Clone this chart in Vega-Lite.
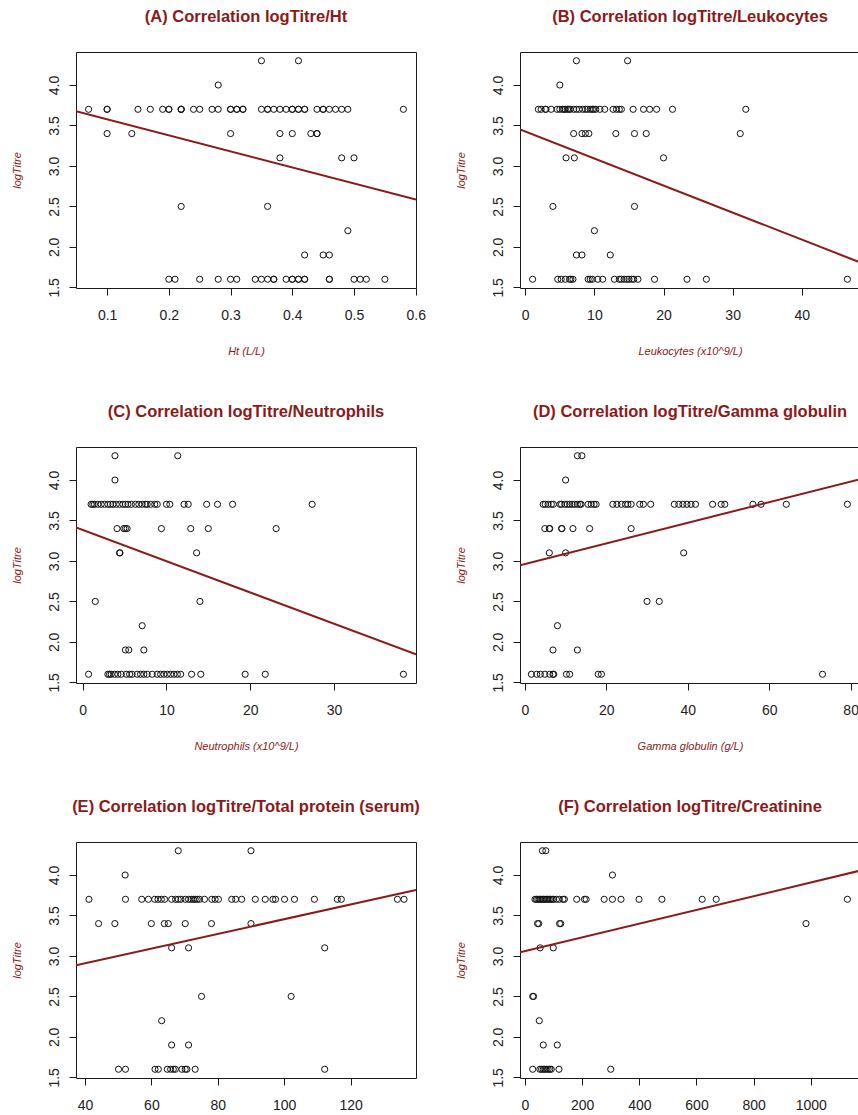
{
  "$schema": "https://vega.github.io/schema/vega-lite/v6.json",
  "padding": {"top": 8, "left": 10, "right": 0, "bottom": 0},
  "background": "white",
  "config": {
    "font": "Liberation Sans",
    "view": {"stroke": "#1a1a1a", "strokeWidth": 1},
    "axis": {"grid": false, "domain": false, "tickColor": "#1a1a1a", "tickSize": 7, "labelFont": "Liberation Sans", "labelFontSize": 14, "labelColor": "#222222", "labelFlush": false, "labelOverlap": false, "titleFont": "Liberation Sans", "titleFontSize": 11, "titleFontStyle": "italic", "titleFontWeight": "normal", "titleColor": "#8B1A1A"},
    "axisY": {"labelAngle": 270, "labelAlign": "center", "labelBaseline": "bottom", "labelPadding": 8, "titlePadding": 25},
    "axisX": {"labelPadding": 13, "titlePadding": 23},
    "title": {"font": "Liberation Sans", "fontSize": 16.5, "fontWeight": "bold", "color": "#8B1A1A", "anchor": "middle", "frame": "group", "baseline": "alphabetic", "offset": 27}
  },
  "datasets": {
    "A": [
      {"x":0.07,"logTitre":3.7},{"x":0.10,"logTitre":3.7},{"x":0.10,"logTitre":3.7},{"x":0.15,"logTitre":3.7},{"x":0.17,"logTitre":3.7},{"x":0.19,"logTitre":3.7},{"x":0.20,"logTitre":3.7},{"x":0.20,"logTitre":3.7},{"x":0.22,"logTitre":3.7},{"x":0.22,"logTitre":3.7},{"x":0.22,"logTitre":3.7},{"x":0.24,"logTitre":3.7},{"x":0.25,"logTitre":3.7},{"x":0.27,"logTitre":3.7},{"x":0.28,"logTitre":3.7},{"x":0.30,"logTitre":3.7},{"x":0.30,"logTitre":3.7},{"x":0.31,"logTitre":3.7},{"x":0.31,"logTitre":3.7},{"x":0.32,"logTitre":3.7},{"x":0.32,"logTitre":3.7},{"x":0.35,"logTitre":3.7},{"x":0.36,"logTitre":3.7},{"x":0.36,"logTitre":3.7},{"x":0.37,"logTitre":3.7},{"x":0.38,"logTitre":3.7},{"x":0.39,"logTitre":3.7},{"x":0.40,"logTitre":3.7},{"x":0.40,"logTitre":3.7},{"x":0.41,"logTitre":3.7},{"x":0.41,"logTitre":3.7},{"x":0.42,"logTitre":3.7},{"x":0.42,"logTitre":3.7},{"x":0.44,"logTitre":3.7},{"x":0.45,"logTitre":3.7},{"x":0.45,"logTitre":3.7},{"x":0.46,"logTitre":3.7},{"x":0.47,"logTitre":3.7},{"x":0.48,"logTitre":3.7},{"x":0.49,"logTitre":3.7},{"x":0.58,"logTitre":3.7},
      {"x":0.10,"logTitre":3.4},{"x":0.14,"logTitre":3.4},{"x":0.30,"logTitre":3.4},{"x":0.38,"logTitre":3.4},{"x":0.40,"logTitre":3.4},{"x":0.43,"logTitre":3.4},{"x":0.44,"logTitre":3.4},{"x":0.44,"logTitre":3.4},
      {"x":0.38,"logTitre":3.1},{"x":0.48,"logTitre":3.1},{"x":0.50,"logTitre":3.1},
      {"x":0.28,"logTitre":4.0},{"x":0.35,"logTitre":4.3},{"x":0.41,"logTitre":4.3},
      {"x":0.22,"logTitre":2.5},{"x":0.36,"logTitre":2.5},{"x":0.49,"logTitre":2.2},
      {"x":0.42,"logTitre":1.9},{"x":0.45,"logTitre":1.9},{"x":0.46,"logTitre":1.9},
      {"x":0.20,"logTitre":1.6},{"x":0.21,"logTitre":1.6},{"x":0.25,"logTitre":1.6},{"x":0.28,"logTitre":1.6},{"x":0.30,"logTitre":1.6},{"x":0.31,"logTitre":1.6},{"x":0.34,"logTitre":1.6},{"x":0.35,"logTitre":1.6},{"x":0.36,"logTitre":1.6},{"x":0.37,"logTitre":1.6},{"x":0.37,"logTitre":1.6},{"x":0.39,"logTitre":1.6},{"x":0.40,"logTitre":1.6},{"x":0.40,"logTitre":1.6},{"x":0.41,"logTitre":1.6},{"x":0.41,"logTitre":1.6},{"x":0.42,"logTitre":1.6},{"x":0.42,"logTitre":1.6},{"x":0.46,"logTitre":1.6},{"x":0.46,"logTitre":1.6},{"x":0.50,"logTitre":1.6},{"x":0.51,"logTitre":1.6},{"x":0.52,"logTitre":1.6},{"x":0.55,"logTitre":1.6}
    ],
    "A_fit": [{"x":0.0496,"logTitre":3.675},{"x":0.6004,"logTitre":2.584}],
    "B": [
      {"x":1.9,"logTitre":3.7},{"x":2.3,"logTitre":3.7},{"x":2.9,"logTitre":3.7},{"x":3.0,"logTitre":3.7},{"x":3.75,"logTitre":3.7},{"x":4.6,"logTitre":3.7},{"x":5.0,"logTitre":3.7},{"x":5.4,"logTitre":3.7},{"x":5.6,"logTitre":3.7},{"x":5.8,"logTitre":3.7},{"x":6.1,"logTitre":3.7},{"x":6.3,"logTitre":3.7},{"x":6.5,"logTitre":3.7},{"x":7.0,"logTitre":3.7},{"x":7.4,"logTitre":3.7},{"x":7.8,"logTitre":3.7},{"x":8.3,"logTitre":3.7},{"x":8.7,"logTitre":3.7},{"x":9.0,"logTitre":3.7},{"x":9.4,"logTitre":3.7},{"x":9.7,"logTitre":3.7},{"x":9.9,"logTitre":3.7},{"x":10.2,"logTitre":3.7},{"x":10.8,"logTitre":3.7},{"x":11.5,"logTitre":3.7},{"x":12.7,"logTitre":3.7},{"x":13.2,"logTitre":3.7},{"x":13.6,"logTitre":3.7},{"x":13.9,"logTitre":3.7},{"x":15.6,"logTitre":3.7},{"x":17.1,"logTitre":3.7},{"x":18.0,"logTitre":3.7},{"x":19.0,"logTitre":3.7},{"x":21.3,"logTitre":3.7},{"x":31.9,"logTitre":3.7},
      {"x":7.0,"logTitre":3.4},{"x":8.2,"logTitre":3.4},{"x":8.7,"logTitre":3.4},{"x":9.2,"logTitre":3.4},{"x":13.1,"logTitre":3.4},{"x":15.8,"logTitre":3.4},{"x":17.5,"logTitre":3.4},{"x":31.1,"logTitre":3.4},
      {"x":5.9,"logTitre":3.1},{"x":7.1,"logTitre":3.1},{"x":20.0,"logTitre":3.1},
      {"x":5.0,"logTitre":4.0},{"x":7.4,"logTitre":4.3},{"x":14.8,"logTitre":4.3},
      {"x":4.0,"logTitre":2.5},{"x":15.8,"logTitre":2.5},{"x":10.0,"logTitre":2.2},
      {"x":7.4,"logTitre":1.9},{"x":8.2,"logTitre":1.9},{"x":12.3,"logTitre":1.9},
      {"x":1.06,"logTitre":1.6},{"x":4.7,"logTitre":1.6},{"x":5.2,"logTitre":1.6},{"x":5.8,"logTitre":1.6},{"x":6.4,"logTitre":1.6},{"x":6.6,"logTitre":1.6},{"x":6.9,"logTitre":1.6},{"x":9.1,"logTitre":1.6},{"x":9.4,"logTitre":1.6},{"x":9.7,"logTitre":1.6},{"x":10.5,"logTitre":1.6},{"x":11.2,"logTitre":1.6},{"x":12.9,"logTitre":1.6},{"x":13.6,"logTitre":1.6},{"x":13.9,"logTitre":1.6},{"x":14.3,"logTitre":1.6},{"x":14.7,"logTitre":1.6},{"x":15.0,"logTitre":1.6},{"x":15.4,"logTitre":1.6},{"x":15.7,"logTitre":1.6},{"x":16.3,"logTitre":1.6},{"x":18.7,"logTitre":1.6},{"x":23.4,"logTitre":1.6},{"x":26.2,"logTitre":1.6},{"x":46.6,"logTitre":1.6}
    ],
    "B_fit": [{"x":-0.76,"logTitre":3.451},{"x":48.42,"logTitre":1.809}],
    "C": [
      {"x":3.85,"logTitre":4.3},{"x":11.35,"logTitre":4.3},{"x":3.85,"logTitre":4.0},
      {"x":1.0,"logTitre":3.7},{"x":1.2,"logTitre":3.7},{"x":1.4,"logTitre":3.7},{"x":1.8,"logTitre":3.7},{"x":2.2,"logTitre":3.7},{"x":2.6,"logTitre":3.7},{"x":3.0,"logTitre":3.7},{"x":3.3,"logTitre":3.7},{"x":3.6,"logTitre":3.7},{"x":4.0,"logTitre":3.7},{"x":4.4,"logTitre":3.7},{"x":4.8,"logTitre":3.7},{"x":5.1,"logTitre":3.7},{"x":5.4,"logTitre":3.7},{"x":5.8,"logTitre":3.7},{"x":6.3,"logTitre":3.7},{"x":6.7,"logTitre":3.7},{"x":7.1,"logTitre":3.7},{"x":7.5,"logTitre":3.7},{"x":7.7,"logTitre":3.7},{"x":8.1,"logTitre":3.7},{"x":8.6,"logTitre":3.7},{"x":8.9,"logTitre":3.7},{"x":10.0,"logTitre":3.7},{"x":10.4,"logTitre":3.7},{"x":12.1,"logTitre":3.7},{"x":12.6,"logTitre":3.7},{"x":14.8,"logTitre":3.7},{"x":16.1,"logTitre":3.7},{"x":17.9,"logTitre":3.7},{"x":27.4,"logTitre":3.7},
      {"x":4.1,"logTitre":3.4},{"x":4.9,"logTitre":3.4},{"x":5.1,"logTitre":3.4},{"x":5.3,"logTitre":3.4},{"x":9.4,"logTitre":3.4},{"x":12.9,"logTitre":3.4},{"x":15.0,"logTitre":3.4},{"x":23.1,"logTitre":3.4},
      {"x":4.4,"logTitre":3.1},{"x":4.45,"logTitre":3.1},{"x":13.6,"logTitre":3.1},
      {"x":1.5,"logTitre":2.5},{"x":14.0,"logTitre":2.5},{"x":7.1,"logTitre":2.2},
      {"x":5.1,"logTitre":1.9},{"x":5.5,"logTitre":1.9},{"x":7.3,"logTitre":1.9},
      {"x":0.7,"logTitre":1.6},{"x":3.0,"logTitre":1.6},{"x":3.2,"logTitre":1.6},{"x":3.4,"logTitre":1.6},{"x":3.8,"logTitre":1.6},{"x":4.2,"logTitre":1.6},{"x":4.6,"logTitre":1.6},{"x":5.2,"logTitre":1.6},{"x":5.6,"logTitre":1.6},{"x":5.9,"logTitre":1.6},{"x":6.5,"logTitre":1.6},{"x":6.9,"logTitre":1.6},{"x":7.3,"logTitre":1.6},{"x":7.7,"logTitre":1.6},{"x":8.3,"logTitre":1.6},{"x":8.9,"logTitre":1.6},{"x":9.3,"logTitre":1.6},{"x":9.7,"logTitre":1.6},{"x":10.1,"logTitre":1.6},{"x":10.5,"logTitre":1.6},{"x":10.9,"logTitre":1.6},{"x":11.3,"logTitre":1.6},{"x":11.7,"logTitre":1.6},{"x":13.0,"logTitre":1.6},{"x":14.1,"logTitre":1.6},{"x":19.4,"logTitre":1.6},{"x":21.8,"logTitre":1.6},{"x":38.3,"logTitre":1.6}
    ],
    "C_fit": [{"x":-0.804,"logTitre":3.415},{"x":39.804,"logTitre":1.846}],
    "D": [
      {"x":12.9,"logTitre":4.3},{"x":14.0,"logTitre":4.3},{"x":10.0,"logTitre":4.0},
      {"x":4.5,"logTitre":3.7},{"x":5.0,"logTitre":3.7},{"x":5.7,"logTitre":3.7},{"x":6.5,"logTitre":3.7},{"x":7.0,"logTitre":3.7},{"x":8.6,"logTitre":3.7},{"x":9.0,"logTitre":3.7},{"x":9.8,"logTitre":3.7},{"x":10.4,"logTitre":3.7},{"x":11.0,"logTitre":3.7},{"x":11.6,"logTitre":3.7},{"x":12.2,"logTitre":3.7},{"x":12.9,"logTitre":3.7},{"x":13.5,"logTitre":3.7},{"x":13.8,"logTitre":3.7},{"x":15.5,"logTitre":3.7},{"x":16.3,"logTitre":3.7},{"x":17.0,"logTitre":3.7},{"x":17.5,"logTitre":3.7},{"x":21.6,"logTitre":3.7},{"x":22.6,"logTitre":3.7},{"x":23.7,"logTitre":3.7},{"x":24.7,"logTitre":3.7},{"x":25.3,"logTitre":3.7},{"x":26.1,"logTitre":3.7},{"x":28.2,"logTitre":3.7},{"x":29.1,"logTitre":3.7},{"x":30.9,"logTitre":3.7},{"x":36.7,"logTitre":3.7},{"x":37.8,"logTitre":3.7},{"x":38.8,"logTitre":3.7},{"x":39.8,"logTitre":3.7},{"x":40.8,"logTitre":3.7},{"x":41.9,"logTitre":3.7},{"x":46.1,"logTitre":3.7},{"x":48.2,"logTitre":3.7},{"x":49.1,"logTitre":3.7},{"x":56.0,"logTitre":3.7},{"x":58.0,"logTitre":3.7},{"x":64.2,"logTitre":3.7},{"x":79.2,"logTitre":3.7},
      {"x":4.9,"logTitre":3.4},{"x":6.0,"logTitre":3.4},{"x":6.1,"logTitre":3.4},{"x":9.0,"logTitre":3.4},{"x":9.1,"logTitre":3.4},{"x":11.8,"logTitre":3.4},{"x":15.9,"logTitre":3.4},{"x":26.1,"logTitre":3.4},
      {"x":6.0,"logTitre":3.1},{"x":10.0,"logTitre":3.1},{"x":39.0,"logTitre":3.1},
      {"x":30.0,"logTitre":2.5},{"x":33.0,"logTitre":2.5},{"x":8.0,"logTitre":2.2},
      {"x":6.9,"logTitre":1.9},{"x":12.9,"logTitre":1.9},
      {"x":1.6,"logTitre":1.6},{"x":2.9,"logTitre":1.6},{"x":3.8,"logTitre":1.6},{"x":4.9,"logTitre":1.6},{"x":6.1,"logTitre":1.6},{"x":6.9,"logTitre":1.6},{"x":7.1,"logTitre":1.6},{"x":10.2,"logTitre":1.6},{"x":11.0,"logTitre":1.6},{"x":18.0,"logTitre":1.6},{"x":18.8,"logTitre":1.6},{"x":73.1,"logTitre":1.6}
    ],
    "D_fit": [{"x":-1.2,"logTitre":2.947},{"x":82.3,"logTitre":4.01}],
    "E": [
      {"x":68.1,"logTitre":4.3},{"x":90.0,"logTitre":4.3},{"x":52.1,"logTitre":4.0},
      {"x":41.2,"logTitre":3.7},{"x":52.2,"logTitre":3.7},{"x":57.1,"logTitre":3.7},{"x":59.1,"logTitre":3.7},{"x":61.0,"logTitre":3.7},{"x":62.0,"logTitre":3.7},{"x":63.0,"logTitre":3.7},{"x":64.0,"logTitre":3.7},{"x":66.1,"logTitre":3.7},{"x":67.3,"logTitre":3.7},{"x":68.1,"logTitre":3.7},{"x":68.9,"logTitre":3.7},{"x":70.2,"logTitre":3.7},{"x":71.2,"logTitre":3.7},{"x":72.0,"logTitre":3.7},{"x":72.6,"logTitre":3.7},{"x":73.2,"logTitre":3.7},{"x":73.8,"logTitre":3.7},{"x":74.5,"logTitre":3.7},{"x":76.0,"logTitre":3.7},{"x":78.2,"logTitre":3.7},{"x":79.2,"logTitre":3.7},{"x":80.2,"logTitre":3.7},{"x":84.2,"logTitre":3.7},{"x":85.4,"logTitre":3.7},{"x":87.2,"logTitre":3.7},{"x":91.3,"logTitre":3.7},{"x":94.3,"logTitre":3.7},{"x":96.6,"logTitre":3.7},{"x":97.4,"logTitre":3.7},{"x":100.1,"logTitre":3.7},{"x":103.1,"logTitre":3.7},{"x":109.1,"logTitre":3.7},{"x":116.0,"logTitre":3.7},{"x":117.2,"logTitre":3.7},{"x":134.1,"logTitre":3.7},{"x":136.1,"logTitre":3.7},
      {"x":44.1,"logTitre":3.4},{"x":49.0,"logTitre":3.4},{"x":60.0,"logTitre":3.4},{"x":63.9,"logTitre":3.4},{"x":65.1,"logTitre":3.4},{"x":70.2,"logTitre":3.4},{"x":78.1,"logTitre":3.4},{"x":90.0,"logTitre":3.4},
      {"x":66.1,"logTitre":3.1},{"x":71.2,"logTitre":3.1},{"x":112.2,"logTitre":3.1},
      {"x":75.1,"logTitre":2.5},{"x":102.1,"logTitre":2.5},{"x":63.1,"logTitre":2.2},
      {"x":66.1,"logTitre":1.9},{"x":71.2,"logTitre":1.9},
      {"x":50.1,"logTitre":1.6},{"x":52.2,"logTitre":1.6},{"x":61.1,"logTitre":1.6},{"x":62.1,"logTitre":1.6},{"x":64.8,"logTitre":1.6},{"x":65.8,"logTitre":1.6},{"x":66.6,"logTitre":1.6},{"x":67.2,"logTitre":1.6},{"x":69.2,"logTitre":1.6},{"x":70.2,"logTitre":1.6},{"x":70.7,"logTitre":1.6},{"x":73.2,"logTitre":1.6},{"x":112.2,"logTitre":1.6}
    ],
    "E_fit": [{"x":37.3,"logTitre":2.886},{"x":139.7,"logTitre":3.814}],
    "F": [
      {"x":61,"logTitre":4.3},{"x":73,"logTitre":4.3},{"x":306,"logTitre":4.0},
      {"x":35,"logTitre":3.7},{"x":40,"logTitre":3.7},{"x":45,"logTitre":3.7},{"x":50,"logTitre":3.7},{"x":55,"logTitre":3.7},{"x":60,"logTitre":3.7},{"x":65,"logTitre":3.7},{"x":70,"logTitre":3.7},{"x":75,"logTitre":3.7},{"x":80,"logTitre":3.7},{"x":85,"logTitre":3.7},{"x":90,"logTitre":3.7},{"x":95,"logTitre":3.7},{"x":100,"logTitre":3.7},{"x":110,"logTitre":3.7},{"x":120,"logTitre":3.7},{"x":133,"logTitre":3.7},{"x":138,"logTitre":3.7},{"x":181,"logTitre":3.7},{"x":208,"logTitre":3.7},{"x":214,"logTitre":3.7},{"x":277,"logTitre":3.7},{"x":306,"logTitre":3.7},{"x":336,"logTitre":3.7},{"x":399,"logTitre":3.7},{"x":479,"logTitre":3.7},{"x":620,"logTitre":3.7},{"x":669,"logTitre":3.7},{"x":1128,"logTitre":3.7},
      {"x":44,"logTitre":3.4},{"x":48,"logTitre":3.4},{"x":121,"logTitre":3.4},{"x":125,"logTitre":3.4},{"x":983,"logTitre":3.4},
      {"x":53,"logTitre":3.1},{"x":99,"logTitre":3.1},
      {"x":27,"logTitre":2.5},{"x":30,"logTitre":2.5},{"x":50,"logTitre":2.2},
      {"x":64,"logTitre":1.9},{"x":113,"logTitre":1.9},
      {"x":27,"logTitre":1.6},{"x":52,"logTitre":1.6},{"x":58,"logTitre":1.6},{"x":64,"logTitre":1.6},{"x":69,"logTitre":1.6},{"x":75,"logTitre":1.6},{"x":81,"logTitre":1.6},{"x":87,"logTitre":1.6},{"x":92,"logTitre":1.6},{"x":119,"logTitre":1.6},{"x":300,"logTitre":1.6}
    ],
    "F_fit": [{"x":-17.4,"logTitre":3.044},{"x":1172,"logTitre":4.054}]
  },
  "columns": 2,
  "spacing": {"row": 159, "column": 104},
  "bounds": "flush",
  "concat": [
    {
      "title": "(A) Correlation logTitre/Ht",
      "width": 340, "height": 236,
      "encoding": {
        "x": {"field": "x", "type": "quantitative", "scale": {"domain": [0.0496, 0.6004], "nice": false, "zero": false}, "axis": {"values": [0.1,0.2,0.3,0.4,0.5,0.6], "format": ".1f", "title": "Ht (L/L)"}},
        "y": {"field": "logTitre", "type": "quantitative", "scale": {"domain": [1.492, 4.408], "nice": false, "zero": false}, "axis": {"values": [1.5,2,2.5,3,3.5,4], "format": ".1f", "title": "logTitre"}}
      },
      "layer": [
        {"data": {"name": "A"}, "mark": {"type": "point", "shape": "circle", "filled": false, "stroke": "#111111", "strokeWidth": 1, "size": 38, "opacity": 1}},
        {"data": {"name": "A_fit"}, "mark": {"type": "line", "color": "#8B1A1A", "strokeWidth": 2, "clip": true}}
      ]
    },
    {
      "title": "(B) Correlation logTitre/Leukocytes",
      "width": 340, "height": 236,
      "encoding": {
        "x": {"field": "x", "type": "quantitative", "scale": {"domain": [-0.76, 48.42], "nice": false, "zero": false}, "axis": {"values": [0,10,20,30,40], "format": "d", "title": "Leukocytes (x10^9/L)"}},
        "y": {"field": "logTitre", "type": "quantitative", "scale": {"domain": [1.492, 4.408], "nice": false, "zero": false}, "axis": {"values": [1.5,2,2.5,3,3.5,4], "format": ".1f", "title": "logTitre"}}
      },
      "layer": [
        {"data": {"name": "B"}, "mark": {"type": "point", "shape": "circle", "filled": false, "stroke": "#111111", "strokeWidth": 1, "size": 38, "opacity": 1}},
        {"data": {"name": "B_fit"}, "mark": {"type": "line", "color": "#8B1A1A", "strokeWidth": 2, "clip": true}}
      ]
    },
    {
      "title": "(C) Correlation logTitre/Neutrophils",
      "width": 340, "height": 236,
      "encoding": {
        "x": {"field": "x", "type": "quantitative", "scale": {"domain": [-0.804, 39.804], "nice": false, "zero": false}, "axis": {"values": [0,10,20,30], "format": "d", "title": "Neutrophils (x10^9/L)"}},
        "y": {"field": "logTitre", "type": "quantitative", "scale": {"domain": [1.492, 4.408], "nice": false, "zero": false}, "axis": {"values": [1.5,2,2.5,3,3.5,4], "format": ".1f", "title": "logTitre"}}
      },
      "layer": [
        {"data": {"name": "C"}, "mark": {"type": "point", "shape": "circle", "filled": false, "stroke": "#111111", "strokeWidth": 1, "size": 38, "opacity": 1}},
        {"data": {"name": "C_fit"}, "mark": {"type": "line", "color": "#8B1A1A", "strokeWidth": 2, "clip": true}}
      ]
    },
    {
      "title": "(D) Correlation logTitre/Gamma globulin",
      "width": 340, "height": 236,
      "encoding": {
        "x": {"field": "x", "type": "quantitative", "scale": {"domain": [-1.2, 82.3], "nice": false, "zero": false}, "axis": {"values": [0,20,40,60,80], "format": "d", "title": "Gamma globulin (g/L)"}},
        "y": {"field": "logTitre", "type": "quantitative", "scale": {"domain": [1.492, 4.408], "nice": false, "zero": false}, "axis": {"values": [1.5,2,2.5,3,3.5,4], "format": ".1f", "title": "logTitre"}}
      },
      "layer": [
        {"data": {"name": "D"}, "mark": {"type": "point", "shape": "circle", "filled": false, "stroke": "#111111", "strokeWidth": 1, "size": 38, "opacity": 1}},
        {"data": {"name": "D_fit"}, "mark": {"type": "line", "color": "#8B1A1A", "strokeWidth": 2, "clip": true}}
      ]
    },
    {
      "title": "(E) Correlation logTitre/Total protein (serum)",
      "width": 340, "height": 236,
      "encoding": {
        "x": {"field": "x", "type": "quantitative", "scale": {"domain": [37.3, 139.7], "nice": false, "zero": false}, "axis": {"values": [40,60,80,100,120], "format": "d", "title": null}},
        "y": {"field": "logTitre", "type": "quantitative", "scale": {"domain": [1.492, 4.408], "nice": false, "zero": false}, "axis": {"values": [1.5,2,2.5,3,3.5,4], "format": ".1f", "title": "logTitre"}}
      },
      "layer": [
        {"data": {"name": "E"}, "mark": {"type": "point", "shape": "circle", "filled": false, "stroke": "#111111", "strokeWidth": 1, "size": 38, "opacity": 1}},
        {"data": {"name": "E_fit"}, "mark": {"type": "line", "color": "#8B1A1A", "strokeWidth": 2, "clip": true}}
      ]
    },
    {
      "title": "(F) Correlation logTitre/Creatinine",
      "width": 340, "height": 236,
      "encoding": {
        "x": {"field": "x", "type": "quantitative", "scale": {"domain": [-17.4, 1172], "nice": false, "zero": false}, "axis": {"values": [0,200,400,600,800,1000], "format": "d", "title": null}},
        "y": {"field": "logTitre", "type": "quantitative", "scale": {"domain": [1.492, 4.408], "nice": false, "zero": false}, "axis": {"values": [1.5,2,2.5,3,3.5,4], "format": ".1f", "title": "logTitre"}}
      },
      "layer": [
        {"data": {"name": "F"}, "mark": {"type": "point", "shape": "circle", "filled": false, "stroke": "#111111", "strokeWidth": 1, "size": 38, "opacity": 1}},
        {"data": {"name": "F_fit"}, "mark": {"type": "line", "color": "#8B1A1A", "strokeWidth": 2, "clip": true}}
      ]
    }
  ]
}
